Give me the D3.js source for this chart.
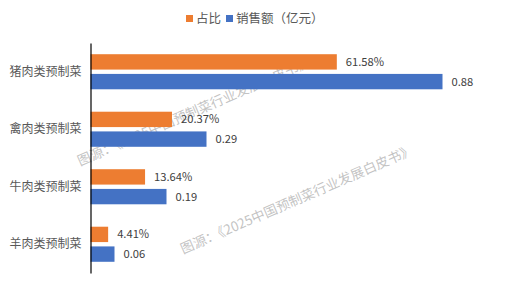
<!DOCTYPE html>
<html><head><meta charset="utf-8">
<script src="https://cdn.jsdelivr.net/npm/d3@7/dist/d3.min.js"></script>
<style>body{margin:0;background:#fff;}svg{display:block;font-family:"Noto Sans CJK SC","Noto Sans",sans-serif;}</style>
</head><body><svg id="c" width="507" height="288"></svg>
<script>
const categories = ["猪肉类预制菜","禽肉类预制菜","牛肉类预制菜","羊肉类预制菜"];
const seriesNames = ["占比","销售额（亿元）"];
const shareValues = [0.6158, 0.2037, 0.1364, 0.0441];
const shareLabels = ["61.58%","20.37%","13.64%","4.41%"];
const salesValues = [0.88, 0.29, 0.19, 0.06];
const salesLabels = ["0.88","0.29","0.19","0.06"];
const colors = ["#ED7D31","#4472C4"];
const watermark = "图源：《2025中国预制菜行业发展白皮书》";

const svg = d3.select("#c");
const x = d3.scaleLinear().domain([0,1]).range([90.5,490.5]);
const y = d3.scaleBand().domain(categories).range([43,273]).paddingInner(0.39).paddingOuter(0.195);
const ys = d3.scaleBand().domain(seriesNames).range([0,y.bandwidth()]).paddingInner(0.22);

// watermarks (behind bars)
[[80,166],[183,254]].forEach(([wx,wy])=>{
  svg.append("text").attr("transform",`translate(${wx},${wy}) rotate(-23.4)`)
    .attr("font-size",13.5).attr("fill","#b8b8b8").attr("fill-opacity",0.85).text(watermark);
});

const data = categories.map((c,i)=>({c, vals:[
  {s:seriesNames[0], v:shareValues[i], l:shareLabels[i]},
  {s:seriesNames[1], v:salesValues[i], l:salesLabels[i]}]}));

const g = svg.selectAll("g.cat").data(data).join("g").attr("class","cat")
  .attr("transform",d=>`translate(0,${y(d.c)})`);
g.selectAll("rect").data(d=>d.vals).join("rect")
  .attr("x",x(0)).attr("y",d=>ys(d.s)).attr("height",ys.bandwidth())
  .attr("width",d=>x(d.v)-x(0)).attr("fill",(d,i)=>colors[i]);
g.selectAll("text.lbl").data(d=>d.vals).join("text").attr("class","lbl")
  .attr("x",d=>x(d.v)+9).attr("y",d=>ys(d.s)+ys.bandwidth()/2)
  .attr("dy","0.35em").attr("font-size",11.2).attr("fill","#404040").text(d=>d.l);

// category axis
const ax = svg.append("g").attr("transform",`translate(${x(0)},0)`)
  .call(d3.axisLeft(y).tickSize(0).tickPadding(9));
ax.select(".domain").attr("stroke","#000").attr("stroke-width",1.2);
ax.selectAll("text").attr("font-size",12).attr("fill","#595959")
  .attr("font-family",'"Noto Sans CJK SC",sans-serif');

// legend
const leg = svg.append("g");
const lx = [186,226];
seriesNames.forEach((s,i)=>{
  leg.append("rect").attr("x",lx[i]).attr("y",15).attr("width",7).attr("height",7).attr("fill",colors[i]);
  leg.append("text").attr("x",lx[i]+10).attr("y",18.5).attr("dy","0.35em")
    .attr("font-size",12.5).attr("fill","#595959").text(s);
});
</script></body></html>
